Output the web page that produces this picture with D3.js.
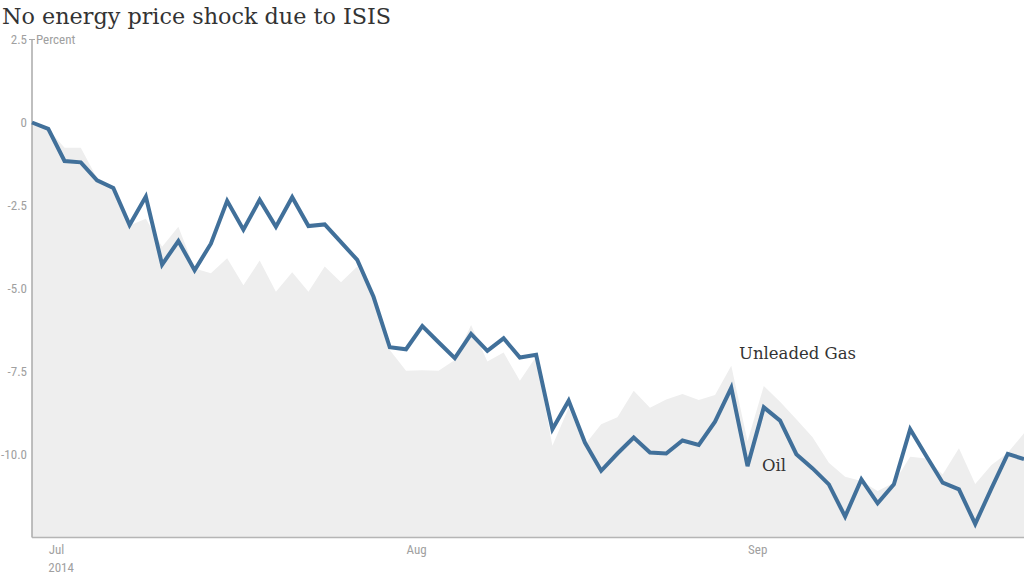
<!DOCTYPE html>
<html>
<head>
<meta charset="utf-8">
<script src="https://cdn.jsdelivr.net/npm/d3@7"></script>
<style>
  html, body { margin: 0; padding: 0; background: #fff; }
  svg { display: block; }
</style>
</head>
<body>
<svg id="chart" width="1024" height="576"></svg>
<script>
// ---- data ----
const dates = [
  "2014-06-30",
  "2014-07-01","2014-07-02","2014-07-03","2014-07-07","2014-07-08","2014-07-09","2014-07-10","2014-07-11",
  "2014-07-14","2014-07-15","2014-07-16","2014-07-17","2014-07-18","2014-07-21","2014-07-22","2014-07-23",
  "2014-07-24","2014-07-25","2014-07-28","2014-07-29","2014-07-30","2014-07-31",
  "2014-08-01","2014-08-04","2014-08-05","2014-08-06","2014-08-07","2014-08-08","2014-08-11","2014-08-12",
  "2014-08-13","2014-08-14","2014-08-15","2014-08-18","2014-08-19","2014-08-20","2014-08-21","2014-08-22",
  "2014-08-25","2014-08-26","2014-08-27","2014-08-28","2014-08-29",
  "2014-09-02","2014-09-03","2014-09-04","2014-09-05","2014-09-08","2014-09-09","2014-09-10","2014-09-11",
  "2014-09-12","2014-09-15","2014-09-16","2014-09-17","2014-09-18","2014-09-19","2014-09-22","2014-09-23",
  "2014-09-24","2014-09-25"
];
const oil = [0, -0.19, -1.16, -1.2, -1.74, -1.97, -3.09, -2.23, -4.28, -3.57,
  -4.45, -3.65, -2.36, -3.23, -2.33, -3.14, -2.25, -3.12, -3.07, -3.6,
  -4.14, -5.25, -6.77, -6.83, -6.13, -6.62, -7.1, -6.37, -6.88, -6.5,
  -7.08, -7.0, -9.24, -8.38, -9.64, -10.49, -9.97, -9.49, -9.94, -9.97,
  -9.58, -9.71, -9.01, -7.99, -10.35, -8.58, -8.98, -9.99, -10.42, -10.9,
  -11.87, -10.75, -11.47, -10.9, -9.24, -10.05, -10.85, -11.05, -12.09, -11.02,
  -9.98, -10.14];
const gas = [0, -0.2, -0.76, -0.76, -1.68, -2.0, -3.1, -2.9, -3.74, -3.14,
  -4.4, -4.54, -4.09, -4.9, -4.16, -5.1, -4.51, -5.1, -4.34, -4.81,
  -4.34, -5.3, -6.85, -7.48, -7.46, -7.48, -7.15, -6.1, -7.2, -6.93,
  -7.78, -7.05, -9.74, -8.6, -9.71, -9.09, -8.88, -8.08, -8.59, -8.34,
  -8.18, -8.36, -8.21, -7.33, -9.6, -7.94, -8.41, -8.94, -9.48, -10.25,
  -10.67, -10.8, -11.1, -10.85, -10.07, -10.12, -10.6, -9.81, -10.89, -10.32,
  -9.95, -9.36];
const yTicks = [2.5, 0, -2.5, -5, -7.5, -10];
const yTickLabels = ["2.5", "0", "-2.5", "-5.0", "-7.5", "-10.0"];
const xTickDates = ["2014-07-01", "2014-08-01", "2014-09-02"];
const xTickLabels = ["Jul", "Aug", "Sep"];
const yearLabel = "2014";
const title = "No energy price shock due to ISIS";
const unitLabel = "Percent";
const seriesLabels = ["Unleaded Gas", "Oil"];

// ---- layout ----
const svg = d3.select("#chart");
const mLeft = 32, mRight = 1024, mTop = 39.5, mBottom = 537.5;
const x = d3.scalePoint().domain(dates).range([mLeft, mRight]);
const y = d3.scaleLinear().domain([-12.5, 2.5]).range([mBottom, mTop]);

const tickFont = "'Liberation Sans Narrow', 'Roboto Condensed', 'Arial Narrow', Roboto, sans-serif";
const tickColor = "#a0a0a0";
const tickSize = "13px";

// area (gas)
const area = d3.area()
  .x((d, i) => x(dates[i]))
  .y0(mBottom)
  .y1(d => y(d));
svg.append("path")
  .datum(gas)
  .attr("d", area)
  .attr("fill", "#eeeeee");

// axes lines
svg.append("line").attr("x1", mLeft).attr("x2", mLeft).attr("y1", mTop).attr("y2", mBottom)
  .attr("stroke", "#aaaaaa").attr("stroke-width", 1.5);
svg.append("line").attr("x1", mLeft).attr("x2", mRight).attr("y1", mBottom).attr("y2", mBottom)
  .attr("stroke", "#b5b5b5").attr("stroke-width", 1.5);
svg.append("line").attr("x1", mLeft - 3).attr("x2", mLeft + 3).attr("y1", y(2.5)).attr("y2", y(2.5))
  .attr("stroke", "#aaaaaa").attr("stroke-width", 1);

// y axis via d3 axis
const yAxis = d3.axisLeft(y)
  .tickValues(yTicks)
  .tickFormat((d, i) => yTickLabels[i])
  .tickSize(0)
  .tickPadding(5);
const gy = svg.append("g").attr("transform", `translate(${mLeft},0)`).call(yAxis);
gy.select(".domain").remove();
gy.selectAll("text")
  .attr("fill", tickColor)
  .style("font-family", tickFont)
  .style("font-size", tickSize);

svg.append("text")
  .attr("x", mLeft + 4).attr("y", y(2.5))
  .attr("dy", "0.32em")
  .attr("fill", tickColor)
  .style("font-family", tickFont)
  .style("font-size", tickSize)
  .text(unitLabel);

// x axis via d3 axis
const xAxis = d3.axisBottom(x)
  .tickValues(xTickDates)
  .tickFormat((d, i) => xTickLabels[i])
  .tickSize(0)
  .tickPadding(7);
const gx = svg.append("g").attr("transform", `translate(0,${mBottom})`).call(xAxis);
gx.select(".domain").remove();
gx.selectAll("text")
  .attr("text-anchor", "start")
  .attr("fill", tickColor)
  .style("font-family", tickFont)
  .style("font-size", tickSize);
svg.append("text")
  .attr("x", x(xTickDates[0])).attr("y", mBottom + 34)
  .attr("fill", tickColor)
  .style("font-family", tickFont)
  .style("font-size", tickSize)
  .text(yearLabel);

// oil line
const line = d3.line()
  .x((d, i) => x(dates[i]))
  .y(d => y(d));
svg.append("path")
  .datum(oil)
  .attr("d", line)
  .attr("fill", "none")
  .attr("stroke", "#41709a")
  .attr("stroke-width", 4)
  .attr("stroke-linejoin", "miter")
  .attr("stroke-linecap", "butt");

// labels
const serif = "'DejaVu Serif', 'Liberation Serif', serif";
svg.append("text")
  .attr("x", 739).attr("y", 359)
  .attr("fill", "#333")
  .style("font-family", serif)
  .style("font-size", "16.5px")
  .text(seriesLabels[0]);
svg.append("text")
  .attr("x", 762).attr("y", 471)
  .attr("fill", "#333")
  .style("font-family", serif)
  .style("font-size", "16.5px")
  .text(seriesLabels[1]);

// title
svg.append("text")
  .attr("x", 2).attr("y", 24)
  .attr("fill", "#333")
  .style("font-family", serif)
  .style("font-size", "22.3px")
  .text(title);
</script>
</body>
</html>
